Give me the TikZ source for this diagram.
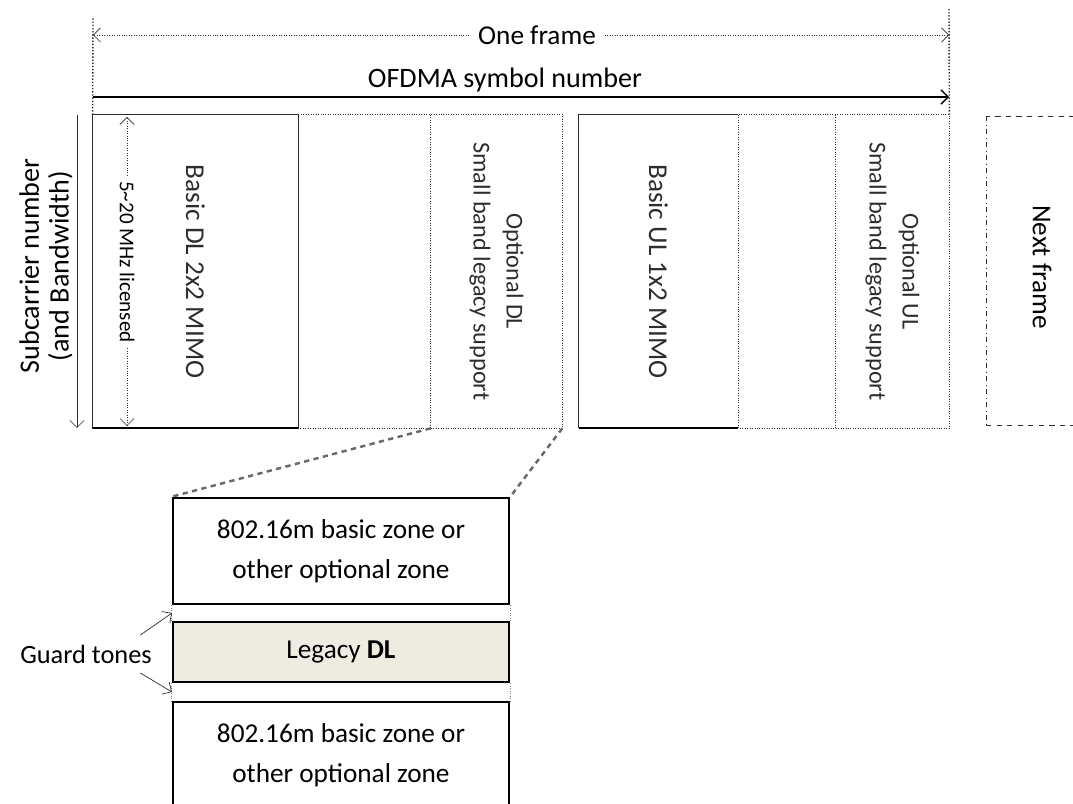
\documentclass[tikz,border=0pt]{standalone}
\usepackage{fontspec}
\setmainfont{Carlito}
\usetikzlibrary{arrows.meta}
\definecolor{legacytan}{RGB}{238,236,225}
\definecolor{zoomgray}{RGB}{105,105,105}
\definecolor{inkgray}{RGB}{45,45,45}

\begin{document}
\begin{tikzpicture}[x=0.02cm, y=-0.02cm,
    slot/.style={rotate=-90, inner sep=0pt, minimum width=6.26cm, align=center, text=inkgray},
    edge/.style={draw=inkgray, densely dotted},
    zone/.style={draw=black, line width=1.5pt, minimum width=6.72cm, inner sep=0pt, align=center, font=\fontsize{15.5}{22.5}\selectfont},
    zoomline/.style={zoomgray, line width=1.4pt, dash pattern=on 3pt off 2.5pt},
    lbl/.style={font=\fontsize{15.5}{18}\selectfont},
    small/.style={font=\fontsize{13.8}{18.7}\selectfont},
    >={Straight Barb[length=4pt,width=8pt]}
]
\useasboundingbox (0,0) rectangle (1073,804);

% frame slots
\node[slot, minimum height=4.10cm, lbl] (dl) at (195.5,271.5) {Basic DL 2x2 MIMO};
\node[slot, minimum height=2.66cm] (gap1) at (364.5,271.5) {};
\node[slot, minimum height=2.62cm, small] (optdl) at (496.5,271.5) {Optional DL\\Small band legacy support};
\node[slot, minimum height=3.18cm, lbl] (ul) at (658.5,271.5) {Basic UL 1x2 MIMO};
\node[slot, minimum height=1.96cm] (gap2) at (787,271.5) {};
\node[slot, minimum height=2.26cm, small] (optul) at (892.5,271.5) {Optional UL\\Small band legacy support};

\draw[edge] (dl.south west) rectangle (optdl.north east);
\draw[edge] (optdl.south west) -- (optdl.south east);
\draw[edge] (ul.south west) rectangle (optul.north east);
\draw[edge] (ul.north west) -- (ul.north east);
\draw[edge] (optul.south west) -- (optul.south east);
\draw[inkgray] (dl.south east) rectangle (dl.north west);
\draw[inkgray] (ul.south east) -- (ul.south west) -- (ul.north west);
\draw[line width=1.3pt] (dl.south east) -- (dl.north east);
\draw[line width=1.3pt] (ul.south east) -- (ul.north east);

% bandwidth inside DL
\coordinate (bwtop) at (127,117);
\coordinate (bwbot) at (127,426);
\node[rotate=-90, inner sep=3pt, font=\fontsize{12}{14}\selectfont] (bw) at (127,262) {5\textasciitilde20 MHz licensed};
\draw[->, densely dotted, inkgray] (bw) -- (bwtop);
\draw[->, densely dotted, inkgray] (bw) -- (bwbot);

% subcarrier axis
\coordinate (subtop) at (77,115);
\coordinate (subbot) at (77,428);
\draw[->, inkgray] (subtop) -- (subbot);
\node[rotate=90, align=center, font=\fontsize{16}{17}\selectfont] (sub) at (46,266) {Subcarrier number\\(and Bandwidth)};

% frame span
\coordinate (fl) at (93,18);
\coordinate (fr) at (949,8);
\coordinate (ofl) at (93,35);
\coordinate (ofr) at (949,35);
\coordinate (sl) at (93,97);
\coordinate (sr) at (949,97);
\draw[densely dotted, thick, inkgray] (dl.south west) -- (fl);
\draw[densely dotted, thick, inkgray] (optul.north west) -- (fr);
\node[lbl, inner sep=5pt] (frame) at (537,35) {One frame};
\draw[->, densely dotted, inkgray] (frame) -- (ofl);
\draw[->, densely dotted, inkgray] (frame) -- (ofr);
\node[lbl, font=\fontsize{16}{18}\selectfont] (sym) at (505,80) {OFDMA symbol number};
\draw[->, thick] (sl) -- (sr);

% next frame
\node[rotate=-90, lbl] (next) at (1042,267) {Next frame};
\draw[dashed, inkgray] (1085,116) -- (986,116);
\draw[dash dot, inkgray] (986,116) -- (986,425);
\draw[dashed, inkgray] (986,425) -- (1085,425);

% zoom of legacy DL
\node[zone, minimum height=2.12cm] (zt) at (341,551) {802.16m basic zone or\\other optional zone};
\node[zone, minimum height=1.20cm, fill=legacytan] (leg) at (341,652) {Legacy \textbf{DL}};
\node[zone, minimum height=2.12cm] (zb) at (341,755) {802.16m basic zone or\\other optional zone};
\draw[zoomline] (optdl.south east) -- (zt.north west);
\draw[zoomline] (optdl.north east) -- (zt.north east);
\draw[gray, densely dotted, thin] (zt.south west) -- (leg.north west);
\draw[gray, densely dotted, thin] (zt.south east) -- (leg.north east);
\draw[gray, densely dotted, thin] (leg.south west) -- (zb.north west);
\draw[gray, densely dotted, thin] (leg.south east) -- (zb.north east);

% guard tones
\coordinate (g1) at (172,613);
\coordinate (g2) at (172,692);
\node[lbl, font=\fontsize{15}{18}\selectfont] (guard) at (86,654) {Guard tones};
\draw[->, inkgray] ([xshift=-10pt, yshift=2pt]guard.north east) -- (g1);
\draw[->, inkgray] ([xshift=-10pt, yshift=-2pt]guard.south east) -- (g2);

\end{tikzpicture}
\end{document}
